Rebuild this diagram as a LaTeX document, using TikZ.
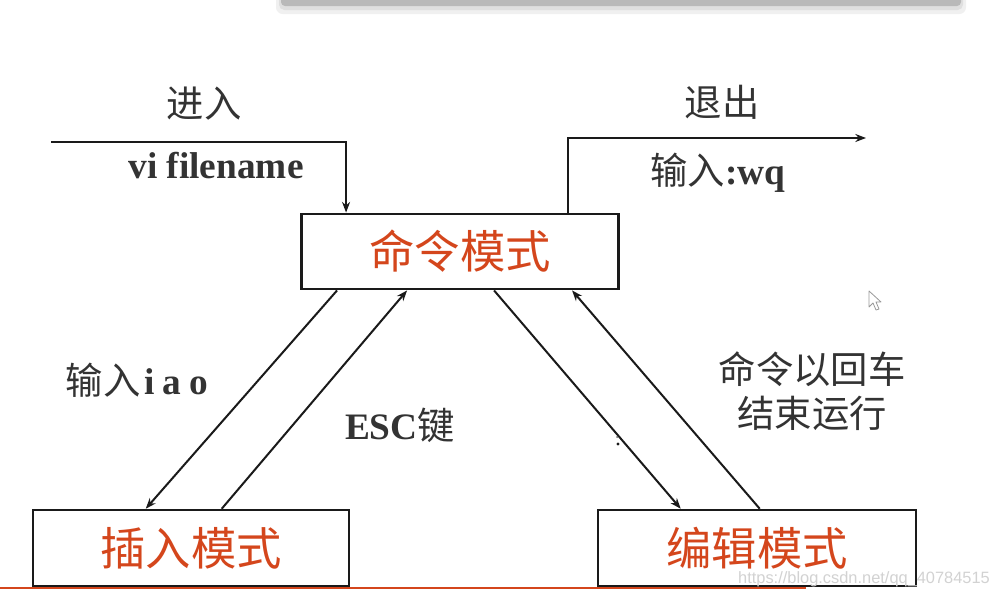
\documentclass[tikz,border=0pt]{standalone}
\usepackage{fontspec}
\setmainfont{Liberation Serif}
\setsansfont{Liberation Sans}
\newfontfamily\cjk{Noto Sans CJK SC}
\usetikzlibrary{arrows.meta,calc}
\definecolor{modered}{HTML}{D4461C}
\definecolor{labelgray}{HTML}{333333}
\definecolor{linegray}{HTML}{1A1A1A}
\tikzset{
  modebox/.style={draw=linegray, line width=1.9pt, fill=white, minimum width=238pt, minimum height=56.5pt, inner sep=0pt, text=modered, font=\cjk\fontsize{34}{40}\selectfont},
  lbl/.style={text=labelgray, inner sep=0pt, font=\fontsize{28}{32}\selectfont},
  conn/.style={draw=linegray, line width=1.5pt},
  arr/.style={conn, -{Stealth[length=8pt,width=6pt]}}
}
\begin{document}
\begin{tikzpicture}[x=0.75pt,y=-0.75pt]
\useasboundingbox (0,0) rectangle (995,589);
% top shadowed bar
\fill[gray!12, rounded corners=5pt] (276,-10) rectangle (966,14);
\fill[gray!25, rounded corners=4pt] (279,-10) rectangle (963,10);
\fill[gray!55, rounded corners=3pt] (281,-10) rectangle (961,6);
% boxes
\node[modebox] (cmd) at (460,251.5) {命令模式};
\node[modebox, minimum width=237pt, minimum height=57pt] (ins) at (191,548) {插入模式};
\node[modebox, minimum width=238.5pt, minimum height=57pt] (edit) at (757,548) {编辑模式};
% entry / exit
\coordinate (enter) at (51,142);
\coordinate (leave) at (866,138);
\draw[arr] (enter) -| ($(cmd.north west)+(46,0)$);
\draw[arr] ($(cmd.north west)+(268,0)$) |- (leave);
% transitions
\draw[arr] ($(cmd.south west)+(37,0)$) -- ($(ins.north west)+(114,0)$);
\draw[arr] ($(ins.north west)+(190,0)$) -- ($(cmd.south west)+(107,0)$);
\draw[arr] ($(cmd.south west)+(194,0)$) -- ($(edit.north west)+(84,0)$);
\draw[arr] ($(edit.north west)+(163,0)$) -- ($(cmd.south west)+(272,0)$);
% labels
\node[lbl] (t1) at (204,104) {\cjk 进入};
\node[lbl] (t2) at (216,166) {\bfseries vi filename};
\node[lbl] (t3) at (722,102) {\cjk 退出};
\node[lbl] (t4) at (718,173) {{\cjk 输入}\bfseries :wq};
\node[lbl] (t5) at (137,380) {{\cjk 输入}\hspace{3pt}\bfseries i\hspace{6pt}a\hspace{6pt}o};
\node[lbl] (t6) at (400,425) {{\bfseries ESC}{\cjk 键}};
\node[lbl, align=center, font=\cjk\fontsize{28}{32.5}\selectfont] (t7) at (812,391) {命令以回车\\结束运行};
% stray mark
\fill[linegray] (618,444) circle (1.6);
\fill[linegray!70] (617,437) circle (1);
% cursor
\draw[gray!80, fill=white, line width=0.6pt, line join=round] (869,291) -- (869,307) -- (873,303) -- (876,310) -- (879,309) -- (876,302) -- (881,302) -- cycle;
% watermark
\node[text=gray!35, inner sep=0pt, font=\sffamily\fontsize{12.3}{14}\selectfont] (wm) at (864,579) {https://blog.csdn.net/qq\_40784515};
% bottom line
\draw[modered, line width=1.6pt] (0,588) -- (806,588);
\end{tikzpicture}
\end{document}
